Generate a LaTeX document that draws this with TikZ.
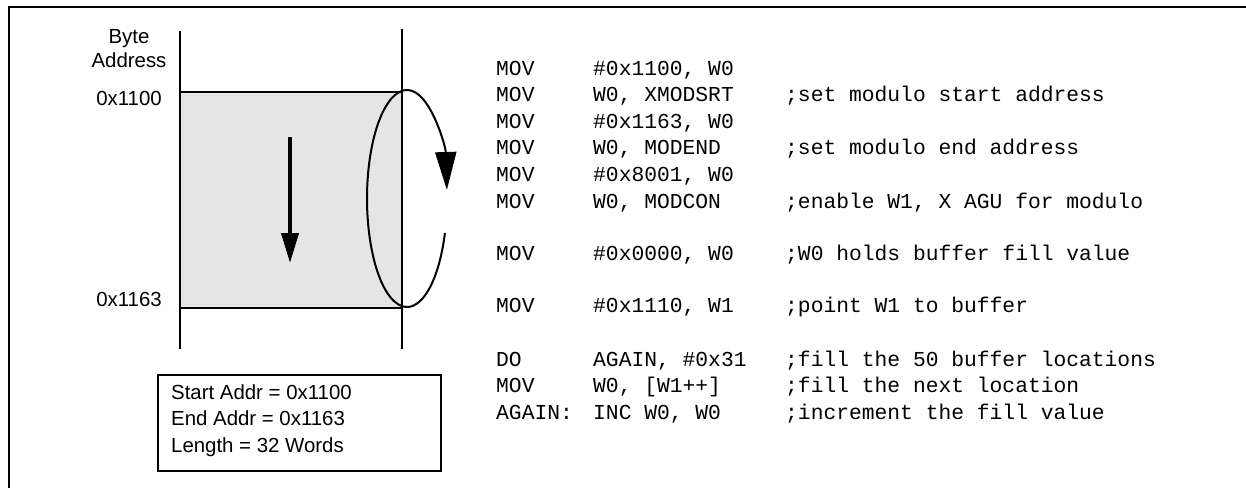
\documentclass[tikz,border=0pt]{standalone}
\usepackage{fontspec}
\setmainfont{Liberation Sans}
\newfontfamily\codefont{Liberation Mono}
\usetikzlibrary{arrows.meta}
\tikzset{
  lbl/.style={inner sep=0pt, anchor=base, font=\fontsize{20.4}{24}\selectfont},
  infotxt/.style={inner sep=0pt, anchor=base west, font=\fontsize{20.4}{24}\selectfont},
  code/.style={inner sep=0pt, anchor=base west, font=\codefont\fontsize{21.3}{24}\selectfont},
  frameline/.style={line width=2pt},
  rail/.style={line width=2pt},
}
\begin{document}
\begin{tikzpicture}[x=1pt,y=-1pt]
\useasboundingbox (0,0) rectangle (1246,488);
% outer frame (top and left edges)
\draw[frameline] (1246,7) -- (9,7) -- (9,488);
% buffer
\node[fill=black!10, draw=none, inner sep=0pt, minimum width=222pt, minimum height=216pt, anchor=north west] (buf) at (180,92) {};
\draw[rail] (180,31) -- (180,349);
\draw[rail] (402,29) -- (402,349);
\draw[rail] (buf.north west) -- (buf.north east);
\draw[rail] (buf.south west) -- (buf.south east);
% labels
\node[lbl] (byte) at (129,43.3) {Byte};
\node[lbl] (addr) at (129,67.7) {Address};
\node[lbl] (a1100) at (129,105) {0x1100};
\node[lbl] (a1163) at (129,306) {0x1163};
% straight arrow
\coordinate (sa) at (290,137);
\coordinate (sb) at (290,263);
\draw[line width=4pt, -{Triangle[length=30pt,width=17pt]}] (sa) -- (sb);
% circular arrow (ellipse)
\coordinate (ec) at (407,198.5);
\draw[line width=2pt, -{Triangle[length=38pt,width=21pt]}]
  ([shift={(-18.5:40pt and 108.5pt)}]ec) arc[start angle=-18.5, end angle=-355.5, x radius=40pt, y radius=108.5pt];
% info box
\node[draw, line width=1.8pt, inner sep=0pt, minimum width=283pt, minimum height=96pt, anchor=north west] (info) at (157,374) {};
\node[infotxt] (i1) at (171,399.3) {Start Addr = 0x1100};
\node[infotxt] (i2) at (171,425.7) {End Addr = 0x1163};
\node[infotxt] (i3) at (171,452.3) {Length = 32 Words};
% code
\node[code] (m1) at (496,75) {MOV};
\node[code] (o1) at (593,75) {\#0x1100, W0};
\node[code] (m2) at (496,101.6) {MOV};
\node[code] (o2) at (593,101.6) {W0, XMODSRT};
\node[code] (k2) at (785,101.6) {;set modulo start address};
\node[code] (m3) at (496,128.2) {MOV};
\node[code] (o3) at (593,128.2) {\#0x1163, W0};
\node[code] (m4) at (496,154.8) {MOV};
\node[code] (o4) at (593,154.8) {W0, MODEND};
\node[code] (k4) at (785,154.8) {;set modulo end address};
\node[code] (m5) at (496,181.4) {MOV};
\node[code] (o5) at (593,181.4) {\#0x8001, W0};
\node[code] (m6) at (496,208) {MOV};
\node[code] (o6) at (593,208) {W0, MODCON};
\node[code] (k6) at (785,208) {;enable W1, X AGU for modulo};
\node[code] (m7) at (496,260) {MOV};
\node[code] (o7) at (593,260) {\#0x0000, W0};
\node[code] (k7) at (785,260) {;W0 holds buffer fill value};
\node[code] (m8) at (496,312.7) {MOV};
\node[code] (o8) at (593,312.7) {\#0x1110, W1};
\node[code] (k8) at (785,312.7) {;point W1 to buffer};
\node[code] (m9) at (496,366) {DO};
\node[code] (o9) at (593,366) {AGAIN, \#0x31};
\node[code] (k9) at (785,366) {;fill the 50 buffer locations};
\node[code] (m10) at (496,392.7) {MOV};
\node[code] (o10) at (593,392.7) {W0, [W1++]};
\node[code] (k10) at (785,392.7) {;fill the next location};
\node[code] (m11) at (496,419.3) {AGAIN:};
\node[code] (o11) at (593,419.3) {INC W0, W0};
\node[code] (k11) at (785,419.3) {;increment the fill value};
\end{tikzpicture}
\end{document}
